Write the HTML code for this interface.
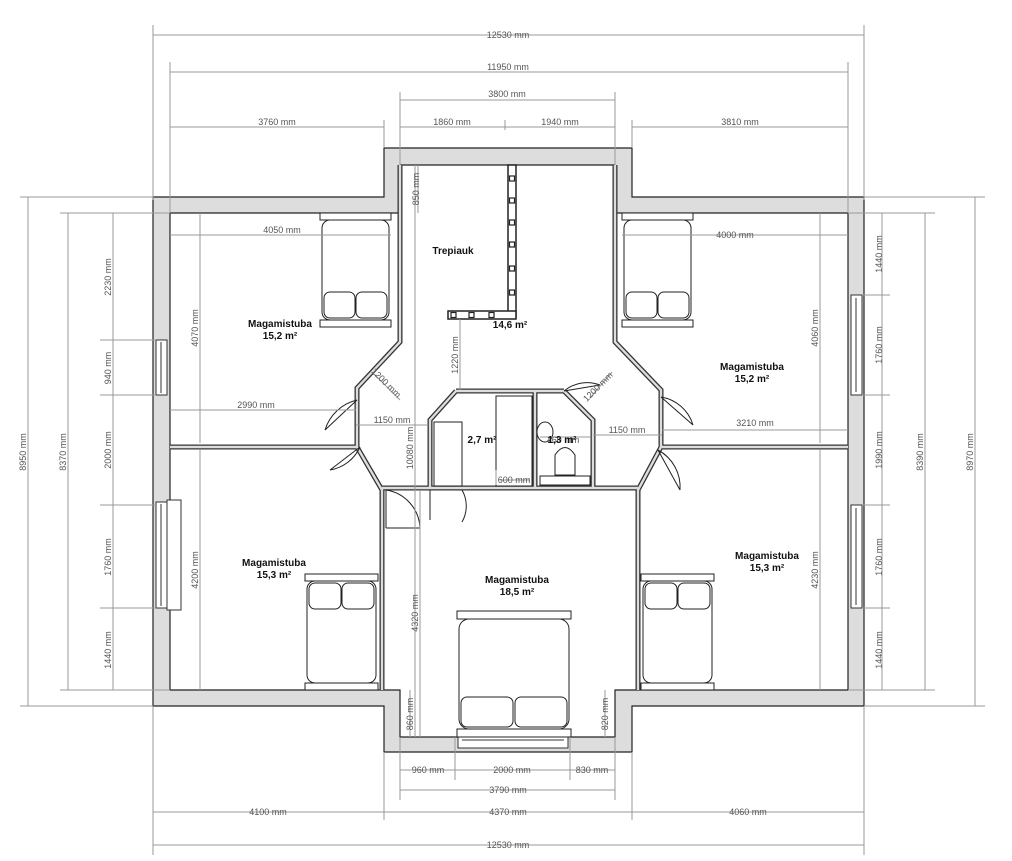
<!DOCTYPE html>
<html><head><meta charset="utf-8"><style>
html,body{margin:0;padding:0;background:#fff;}
svg{display:block}
.d{stroke:#999;stroke-width:1;fill:none}
.dt{font-family:"Liberation Sans",sans-serif;font-size:9px;fill:#555;text-anchor:middle}
.rl{font-family:"Liberation Sans",sans-serif;font-size:10px;fill:#111;text-anchor:middle;font-weight:bold}
.w{fill:#ddd;stroke:#222;stroke-width:1.2}
.iw{fill:none;stroke:#333;stroke-width:5}
.iw2{fill:none;stroke:#ddd;stroke-width:2.4}
</style></head><body>
<svg width="1012" height="861" viewBox="0 0 1012 861" xmlns="http://www.w3.org/2000/svg">
<path class="w" fill-rule="evenodd" d="M153 197 H384 V148 H632 V197 H864 V706 H632 V752 H384 V706 H153 Z
M170 213 V690 H400 V737 H615 V690 H848 V213 H615 V165 H400 V213 Z"/>
<g>
<path class="iw" d="M170 447 H357 M400 165 V342 L357 388 V447 L382 490 V690 M615 165 V342 L661 390 V447 L638 490 V690 M662 447 H848 M382 488 H638 M456 391 H564 M456 391 L430 420 V488 M564 391 L593 420 V488 M535 391 V488"/>
<path class="iw2" d="M170 447 H357 M400 165 V342 L357 388 V447 L382 490 V690 M615 165 V342 L661 390 V447 L638 490 V690 M662 447 H848 M382 488 H638 M456 391 H564 M456 391 L430 420 V488 M564 391 L593 420 V488 M535 391 V488"/>
</g>
<g fill="#fff" stroke="#333" stroke-width="1">
<rect x="156" y="340" width="11" height="55"/><line x1="161" y1="342" x2="161" y2="393"/>
<rect x="156" y="502" width="11" height="106"/><rect x="167" y="500" width="14" height="110"/><line x1="161" y1="504" x2="161" y2="606"/>
<rect x="851" y="295" width="11" height="100"/><line x1="856" y1="298" x2="856" y2="392"/>
<rect x="851" y="505" width="11" height="103"/><line x1="856" y1="508" x2="856" y2="605"/>
<rect x="458" y="730" width="110" height="18"/><line x1="462" y1="740" x2="564" y2="740"/>
</g>
<g fill="none" stroke="#222" stroke-width="1">
<path d="M357 400 L325 430 M357 400 A44 44 0 0 0 325 430"/>
<path d="M360 447 L330 470 M360 447 A40 40 0 0 1 330 470"/>
<path d="M386 490 V528 M386 490 A40 40 0 0 1 420 528 L386 528"/>
<path d="M430 490 V520 M462 490 A32 32 0 0 1 462 522"/>
<path d="M564 391 L600 385 M564 391 A36 36 0 0 1 600 385"/>
<path d="M661 397 L693 425 M661 397 A40 40 0 0 1 693 425"/>
<path d="M658 450 L680 490 M658 450 A42 42 0 0 1 680 490"/>
</g>
<!-- stair -->
<g stroke="#222" stroke-width="1.5" fill="#fff">
<rect x="508" y="165" width="8" height="152"/>
<rect x="448" y="311" width="68" height="8"/>
<g stroke-width="1.2" fill="#fff">
<rect x="509.5" y="176" width="5" height="5"/><rect x="509.5" y="198" width="5" height="5"/><rect x="509.5" y="220" width="5" height="5"/><rect x="509.5" y="242" width="5" height="5"/><rect x="509.5" y="266" width="5" height="5"/><rect x="509.5" y="290" width="5" height="5"/>
<rect x="451" y="312.5" width="5" height="5"/><rect x="469" y="312.5" width="5" height="5"/><rect x="489" y="312.5" width="5" height="5"/>
</g></g>
<g fill="none" stroke="#222" stroke-width="1">
<rect x="434" y="422" width="28" height="64"/><rect x="496" y="396" width="36" height="90"/>
<ellipse cx="545" cy="432" rx="8" ry="10"/>
<path d="M555 475 V455 Q565 440 575 455 V475 Z"/><rect x="540" y="476" width="50" height="9"/>
</g>
<g fill="#fff" stroke="#222" stroke-width="1">
<g><rect x="320" y="213" width="71" height="7"/><rect x="322" y="220" width="67" height="100" rx="8"/><rect x="324" y="292" width="31" height="26" rx="6"/><rect x="356" y="292" width="31" height="26" rx="6"/><rect x="320" y="320" width="71" height="7"/></g>
<g transform="translate(302,0)"><rect x="320" y="213" width="71" height="7"/><rect x="322" y="220" width="67" height="100" rx="8"/><rect x="324" y="292" width="31" height="26" rx="6"/><rect x="356" y="292" width="31" height="26" rx="6"/><rect x="320" y="320" width="71" height="7"/></g>
<g><rect x="305" y="574" width="73" height="7"/><rect x="307" y="581" width="69" height="102" rx="8"/><rect x="309" y="583" width="32" height="26" rx="6"/><rect x="342" y="583" width="32" height="26" rx="6"/><rect x="305" y="683" width="73" height="7"/></g>
<g transform="translate(336,0)"><rect x="305" y="574" width="73" height="7"/><rect x="307" y="581" width="69" height="102" rx="8"/><rect x="309" y="583" width="32" height="26" rx="6"/><rect x="342" y="583" width="32" height="26" rx="6"/><rect x="305" y="683" width="73" height="7"/></g>
<rect x="457" y="611" width="114" height="8"/><rect x="459" y="619" width="110" height="110" rx="10"/><rect x="461" y="697" width="52" height="30" rx="6"/><rect x="515" y="697" width="52" height="30" rx="6"/><rect x="457" y="729" width="114" height="8"/>
</g>
<g class="d">
<path d="M153 35 H864 M170 72 H848 M400 100 H615 M170 127 H384 M400 127 H615 M632 127 H848
M400 770 H615 M400 790 H615 M153 812 H864 M153 845 H864
M28 197 V706 M68 213 V690 M113 213 V690 M975 197 V706 M925 213 V690 M882 213 V690
M170 235 H391 M622 235 H848 M200 213 V443 M820 213 V443 M170 410 H356 M662 430 H848 M200 449 V690 M820 449 V690
M420 490 V737 M415 165 V737 M418 165 V213 M460 319 V390 M356 425 H428 M593 435 H662 M410 690 V737 M605 690 V737
M372 372 L400 400 M590 398 L612 372
M153 25 V200 M864 25 V200 M170 62 V213 M848 62 V213 M384 120 V148 M632 120 V148 M400 92 V165 M615 92 V165 M505 120 V130
M20 197 H153 M20 706 H153 M864 197 H985 M864 706 H985 M60 213 H170 M60 690 H170 M848 213 H935 M848 690 H935
M100 340 H156 M100 395 H156 M100 505 H156 M100 608 H156 M862 295 H890 M862 395 H890 M862 505 H890 M862 608 H890
M153 706 V855 M864 706 V855 M384 752 V820 M632 752 V820 M400 737 V800 M615 737 V800 M455 737 V780 M570 737 V780
M496 470 V485 M500 480 H530 M540 437 H590"/>
</g>
<g class="dt">
<text x="508" y="38">12530 mm</text><text x="508" y="70">11950 mm</text><text x="507" y="97">3800 mm</text>
<text x="277" y="125">3760 mm</text><text x="452" y="125">1860 mm</text><text x="560" y="125">1940 mm</text><text x="740" y="125">3810 mm</text>
<text x="428" y="773">960 mm</text><text x="512" y="773">2000 mm</text><text x="592" y="773">830 mm</text><text x="508" y="793">3790 mm</text>
<text x="268" y="815">4100 mm</text><text x="508" y="815">4370 mm</text><text x="748" y="815">4060 mm</text><text x="508" y="848">12530 mm</text>
<text x="282" y="233">4050 mm</text><text x="735" y="238">4000 mm</text><text x="256" y="408">2990 mm</text><text x="755" y="426">3210 mm</text>
<text x="392" y="423">1150 mm</text><text x="627" y="433">1150 mm</text><text x="514" y="483">600 mm</text><text x="563" y="443">460 mm</text>
<text transform="translate(26,452) rotate(-90)">8950 mm</text><text transform="translate(66,452) rotate(-90)">8370 mm</text>
<text transform="translate(111,277) rotate(-90)">2230 mm</text><text transform="translate(111,368) rotate(-90)">940 mm</text><text transform="translate(111,450) rotate(-90)">2000 mm</text><text transform="translate(111,557) rotate(-90)">1760 mm</text><text transform="translate(111,650) rotate(-90)">1440 mm</text>
<text transform="translate(973,452) rotate(-90)">8970 mm</text><text transform="translate(923,452) rotate(-90)">8390 mm</text>
<text transform="translate(882,254) rotate(-90)">1440 mm</text><text transform="translate(882,345) rotate(-90)">1760 mm</text><text transform="translate(882,450) rotate(-90)">1990 mm</text><text transform="translate(882,557) rotate(-90)">1760 mm</text><text transform="translate(882,650) rotate(-90)">1440 mm</text>
<text transform="translate(198,328) rotate(-90)">4070 mm</text><text transform="translate(818,328) rotate(-90)">4060 mm</text>
<text transform="translate(198,570) rotate(-90)">4200 mm</text><text transform="translate(818,570) rotate(-90)">4230 mm</text>
<text transform="translate(418,613) rotate(-90)">4320 mm</text><text transform="translate(413,448) rotate(-90)">10080 mm</text>
<text transform="translate(419,189) rotate(-90)">850 mm</text><text transform="translate(458,355) rotate(-90)">1220 mm</text>
<text transform="translate(413,714) rotate(-90)">860 mm</text><text transform="translate(608,714) rotate(-90)">820 mm</text>
<text transform="translate(384,385) rotate(45)">1200 mm</text><text transform="translate(600,389) rotate(-45)">1200 mm</text>
</g>
<g class="rl">
<text x="453" y="254">Trepiauk</text><text x="510" y="328">14,6 m²</text>
<text x="280" y="327">Magamistuba</text><text x="280" y="339">15,2 m²</text>
<text x="752" y="370">Magamistuba</text><text x="752" y="382">15,2 m²</text>
<text x="274" y="566">Magamistuba</text><text x="274" y="578">15,3 m²</text>
<text x="767" y="559">Magamistuba</text><text x="767" y="571">15,3 m²</text>
<text x="517" y="583">Magamistuba</text><text x="517" y="595">18,5 m²</text>
<text x="482" y="443">2,7 m²</text><text x="562" y="443">1,3 m²</text>
</g>
</svg>
</body></html>
